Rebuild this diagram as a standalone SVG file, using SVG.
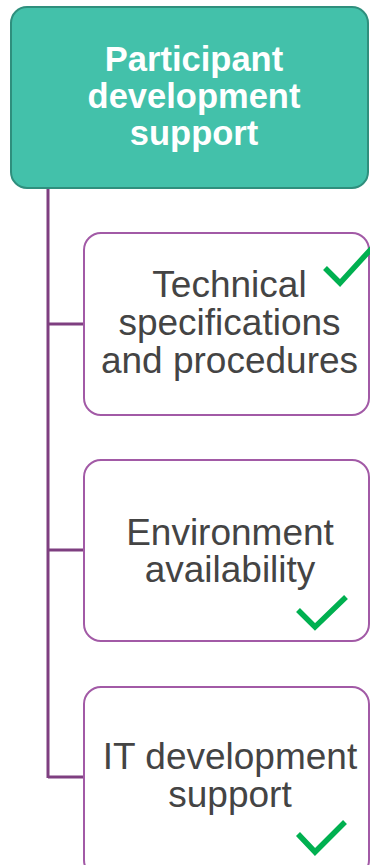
<svg xmlns="http://www.w3.org/2000/svg" width="370" height="865" viewBox="0 0 370 865">
<style>
.sub{fill:#ffffff;stroke:#A25AA6;stroke-width:2}
.lbl{font-family:"Liberation Sans",Arial,sans-serif;font-size:37px;fill:#444444;text-anchor:middle}
.top{font-family:"Liberation Sans",Arial,sans-serif;font-size:34.5px;font-weight:bold;fill:#ffffff;text-anchor:middle}
.chk{fill:none;stroke:#00B050;stroke-width:5.5;stroke-linecap:butt;stroke-linejoin:miter}
.con{fill:none;stroke:#7E3F80;stroke-width:3}
</style>
<rect width="370" height="865" fill="#ffffff"/>
<g id="connectors">
<path class="con" d="M48 188 V778 M48 324 H84 M48 550 H84 M48 777 H84"/>
</g>
<g id="root">
<rect x="11" y="7" width="357" height="181" rx="16" fill="#43C1AA" stroke="#2F8F7D" stroke-width="2"/>
<text class="top" x="194" y="71">Participant</text>
<text class="top" x="194" y="108">development</text>
<text class="top" x="194" y="145">support</text>
</g>
<g id="tech">
<rect class="sub" x="84" y="233" width="285" height="182" rx="17"/>
<text class="lbl" x="229.5" y="297">Technical</text>
<text class="lbl" x="229.5" y="335">specifications</text>
<text class="lbl" x="229.5" y="373">and procedures</text>
<path class="chk" d="M325 268 L340 283 L372 248"/>
</g>
<g id="env">
<rect class="sub" x="84" y="460" width="285" height="181" rx="17"/>
<text class="lbl" x="230" y="545">Environment</text>
<text class="lbl" x="230" y="582">availability</text>
<path class="chk" d="M298 610 L315 627 L346 597"/>
</g>
<g id="itdev">
<rect class="sub" x="84" y="687" width="285" height="190" rx="17"/>
<text class="lbl" x="230" y="769">IT development</text>
<text class="lbl" x="230" y="807">support</text>
<path class="chk" d="M298 834 L315 852 L345 822"/>
</g>
</svg>
